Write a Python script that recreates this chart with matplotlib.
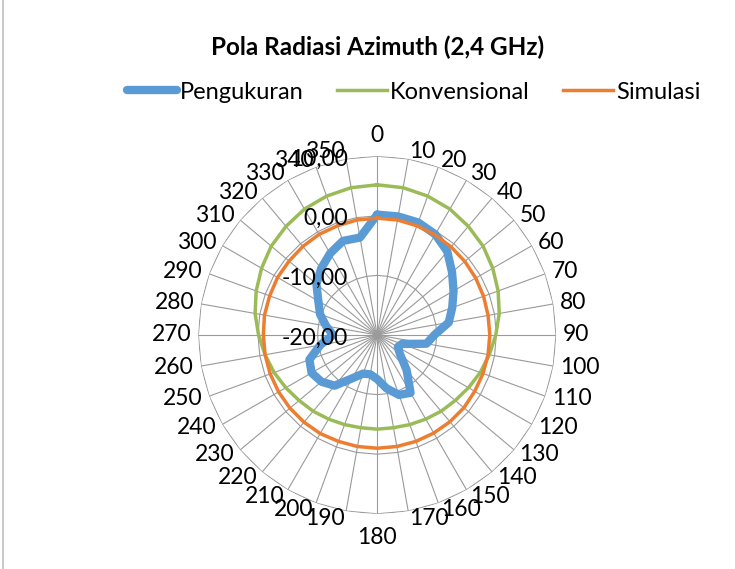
import numpy as np
import matplotlib
matplotlib.use('Agg')
import matplotlib.pyplot as plt
from matplotlib.lines import Line2D

plt.rcParams['font.family'] = ['Lato', 'DejaVu Sans']

# sudut azimuth (derajat) dan nilai (dB)
sudut = list(range(0, 360, 10))
label_sudut = [str(s) for s in sudut]

pengukuran = [0.2, 0.2, 0.1, -0.5, -1.7, -3.6, -5.2, -6.6, -7.8, -10.4,
              -11.6, -15.6, -16.0, -15.0, -12.3, -8.8, -9.3, -10.9, -12.6, -13.3,
              -13.1, -11.6, -8.9, -7.8, -7.3, -7.9, -10.3, -12.6, -11.3, -9.8,
              -8.6, -6.7, -5.4, -4.2, -3.2, -3.4]
konvensional = [5.2, 5.1, 4.8, 4.4, 3.8, 3.2, 2.4, 1.6, 0.8, -0.1,
                -0.9, -1.6, -2.3, -2.9, -3.3, -3.7, -4.0, -4.2, -4.2, -4.2,
                -4.0, -3.7, -3.3, -2.9, -2.3, -1.6, -0.9, -0.1, 0.8, 1.6,
                2.4, 3.2, 3.8, 4.4, 4.8, 5.1]
simulasi = [-0.4, -0.4, -0.5, -0.6, -0.7, -0.8, -0.9, -1.0, -1.1, -1.1,
            -1.1, -1.1, -1.1, -1.0, -1.0, -1.0, -1.0, -1.0, -1.0, -1.0,
            -1.0, -0.9, -0.9, -0.9, -0.9, -0.9, -0.9, -0.9, -0.8, -0.8,
            -0.7, -0.7, -0.6, -0.5, -0.5, -0.4]

r_ticks = [-20, -10, 0, 10]
r_tick_labels = ['-20,00', '-10,00', '0,00', '10,00']
r_min, r_max = -20, 10

theta = np.deg2rad(sudut + [sudut[0]])


def tutup(v):
    return list(v) + [v[0]]


fig = plt.figure(figsize=(7.35, 5.69), dpi=100)
ax = fig.add_axes([0.2699, 0.0970, 0.4865, 0.6285], projection='polar')
ax.set_theta_zero_location('N')
ax.set_theta_direction(-1)
ax.set_ylim(r_min, r_max)
ax.grid(False)
ax.set_xticks([])
ax.set_yticks([])
ax.spines['polar'].set_visible(False)
ax.patch.set_alpha(0)

grid_col = '#9A9A9A'
# jaring-jaring (poligon) seperti radar Excel
for v in r_ticks[1:]:
    ax.plot(theta, [v] * len(theta), color=grid_col, lw=0.8, zorder=1)
for t in np.deg2rad(sudut):
    ax.plot([t, t], [r_min, r_max], color=grid_col, lw=0.8, zorder=1)

ax.plot(theta, tutup(pengukuran), color='#5B9BD5', lw=6.0,
        solid_joinstyle='round', solid_capstyle='round', zorder=3, label='Pengukuran')
ax.plot(theta, tutup(konvensional), color='#9BBB59', lw=2.5, zorder=4, label='Konvensional')
ax.plot(theta, tutup(simulasi), color='#ED7D31', lw=2.5, zorder=5, label='Simulasi')

fs = 16.5
# label sudut di luar lingkaran
for s, lab in zip(sudut, label_sudut):
    t = np.deg2rad(s)
    if s == 0:
        ax.text(t, 11.7, lab, ha='center', va='bottom', fontsize=fs)
    elif s == 180:
        ax.text(t, 12.3, lab, ha='center', va='top', fontsize=fs)
    else:
        ha = 'left' if s < 180 else 'right'
        ax.text(t, 11.2, lab, ha=ha, va='center', fontsize=fs)

# label sumbu nilai
for v, lab in zip(r_ticks, r_tick_labels):
    ax.annotate(lab, xy=(0, v), xytext=(-29, -3), textcoords='offset pixels',
                ha='right', va='center', fontsize=fs, zorder=6)

fig.text(0.514, 0.917, 'Pola Radiasi Azimuth (2,4 GHz)', ha='center', va='center',
         fontsize=17.5, fontweight='bold')

h, l = ax.get_legend_handles_labels()
fig.legend(h, l, loc='center', bbox_to_anchor=(0.563, 0.838), ncol=3, frameon=False,
           fontsize=17, handlelength=2.1, handletextpad=0.15, columnspacing=1.4)

fig.add_artist(Line2D([0.004, 0.004], [0, 1], color='#BFBFBF', lw=1.2))

fig.savefig('out.png', dpi=100)
